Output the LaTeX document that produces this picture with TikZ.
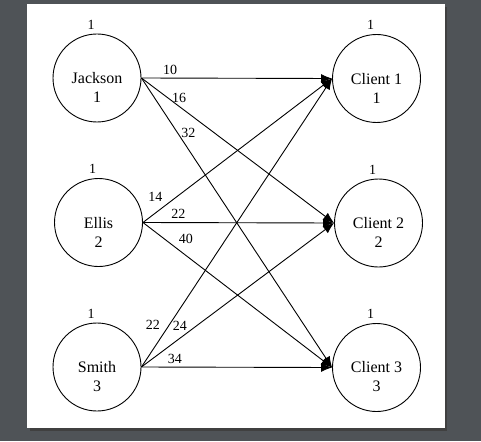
\documentclass[tikz,border=0pt]{standalone}
\usepackage{fontspec}
\setmainfont{Liberation Serif}
\usetikzlibrary{positioning,arrows.meta}
\definecolor{pagegray}{HTML}{4F5357}
\begin{document}
\begin{tikzpicture}[auto,node distance=144.5pt,
  main node/.style={circle,draw,line width=0.9pt,minimum size=88pt,inner sep=0pt,label={[xshift=-6pt,label distance=1pt,font=\fontsize{14}{16}\selectfont]above:1}},
  name text/.style={align=center,yshift=-9.5pt,font=\fontsize{16}{19}\selectfont}]
  \fill[pagegray] (0,0) rectangle (481pt,-441pt);
  \fill[black!75] (30pt,-7pt) rectangle (447pt,-431pt);
  \fill[white] (27pt,-4pt) rectangle (445pt,-428pt);
  \useasboundingbox (0,0) rectangle (481pt,-441pt);

  \node[main node,label={[name text]center:Jackson\\1}] (jackson) at (97pt,-78pt) {};
  \node[main node,label={[name text]center:Ellis\\2}] (ellis) [below of=jackson,xshift=1.5pt] {};
  \node[main node,label={[name text]center:Smith\\3}] (smith) [below of=ellis,xshift=-1.5pt] {};
  \node[main node,label={[name text]center:Client 1\\1}] (client1) at (376.5pt,-78.5pt) {};
  \node[main node,label={[name text]center:Client 2\\2}] (client2) [below of=client1,xshift=2pt] {};
  \node[main node,label={[name text]center:Client 3\\3}] (client3) [below of=client2,xshift=-2pt] {};

  \path[line width=0.9pt,-{Latex[length=11pt,width=9pt]},every node/.style={font=\fontsize{14}{16}\selectfont}]
    (jackson.east) edge node [pos=0.15,above] {10} (client1.west)
    (jackson.east) edge node [pos=0.195,above] {16} (client2.west)
    (jackson.east) edge node [pos=0.19,right] {32} (client3.west)
    (ellis.east) edge node [pos=0.123,above left] {14} (client1.west)
    (ellis.east) edge node [pos=0.186,above] {22} (client2.west)
    (ellis.east) edge node [pos=0.17,above right] {40} (client3.west)
    (smith.east) edge node [pos=0.116,above left] {22} (client1.west)
    (smith.east) edge node [pos=0.23,above left,xshift=5pt] {24} (client2.west)
    (smith.east) edge node [pos=0.176,above] {34} (client3.west);
\end{tikzpicture}
\end{document}
